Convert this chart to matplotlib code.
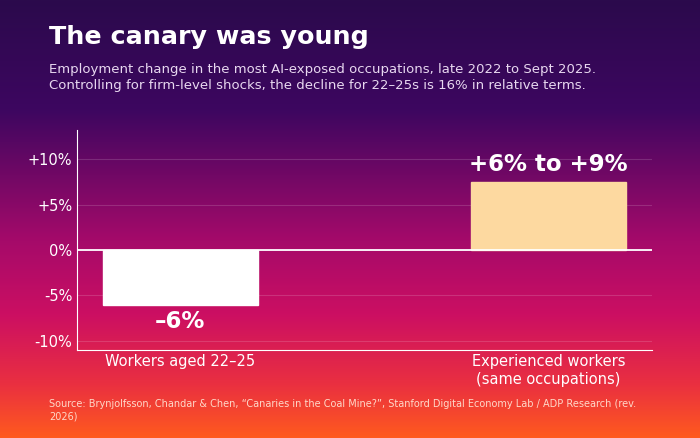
import matplotlib
matplotlib.use("Agg")
import matplotlib.pyplot as plt
import numpy as np
from matplotlib.colors import LinearSegmentedColormap

categories = ["Workers aged 22–25", "Experienced workers\n(same occupations)"]
values = [-6, 7.5]
bar_labels = ["–6%", "+6% to +9%"]
bar_colors = ["#ffffff", "#fdd9a0"]
yticks = [-10, -5, 0, 5, 10]
ytick_labels = ["-10%", "-5%", "0%", "+5%", "+10%"]

fig = plt.figure(figsize=(7, 4.38), dpi=100)

# background gradient
bg = fig.add_axes([0, 0, 1, 1], zorder=-10)
cmap = LinearSegmentedColormap.from_list(
    "bg", [(0, "#2b0a4c"), (0.25, "#3d0660"), (0.55, "#a50a6a"),
           (0.72, "#cc0f62"), (0.88, "#ea3040"), (1, "#ff5a1e")])
grad = np.linspace(0, 1, 256).reshape(-1, 1)
bg.imshow(grad, aspect="auto", cmap=cmap, extent=[0, 1, 0, 1], origin="upper")
bg.axis("off")

ax = fig.add_axes([0.11, 0.201, 0.821, 0.502])
ax.patch.set_alpha(0)
x = np.arange(len(categories))
ax.bar(x, values, width=0.42, color=bar_colors, edgecolor=bar_colors, linewidth=1, zorder=3)
ax.axhline(0, color="white", lw=1.3, zorder=4)
for xi, v, lab in zip(x, values, bar_labels):
    off = 0.6 if v > 0 else -0.6
    ax.text(xi, v + off, lab, ha="center", va="bottom" if v > 0 else "top",
            color="white", fontsize=16.5, fontweight="bold")
ax.set_xlim(-0.28, 1.28)
ax.set_ylim(-11, 13.2)
ax.set_yticks(yticks)
ax.set_yticklabels(ytick_labels)
ax.set_xticks(x)
ax.set_xticklabels(categories)
ax.tick_params(colors="white", labelsize=10.5, length=0)
ax.tick_params(axis="x", pad=3)
ax.grid(axis="y", color="white", alpha=0.15, lw=0.8, zorder=0)
for s in ["top", "right"]:
    ax.spines[s].set_visible(False)
for s in ["left", "bottom"]:
    ax.spines[s].set_color("white")

fig.text(0.07, 0.915, "The canary was young", color="white", fontsize=18.3, fontweight="bold", va="center")
fig.text(0.07, 0.822, "Employment change in the most AI-exposed occupations, late 2022 to Sept 2025.\n"
         "Controlling for firm-level shocks, the decline for 22–25s is 16% in relative terms.",
         color="#e8d8f0", fontsize=9.5, va="center", linespacing=1.3)
fig.text(0.07, 0.063, "Source: Brynjolfsson, Chandar & Chen, “Canaries in the Coal Mine?”, Stanford Digital Economy Lab / ADP Research (rev.\n2026)",
         color="#ffd8c8", fontsize=7, va="center", linespacing=1.3)

fig.savefig("out.png", dpi=100)
